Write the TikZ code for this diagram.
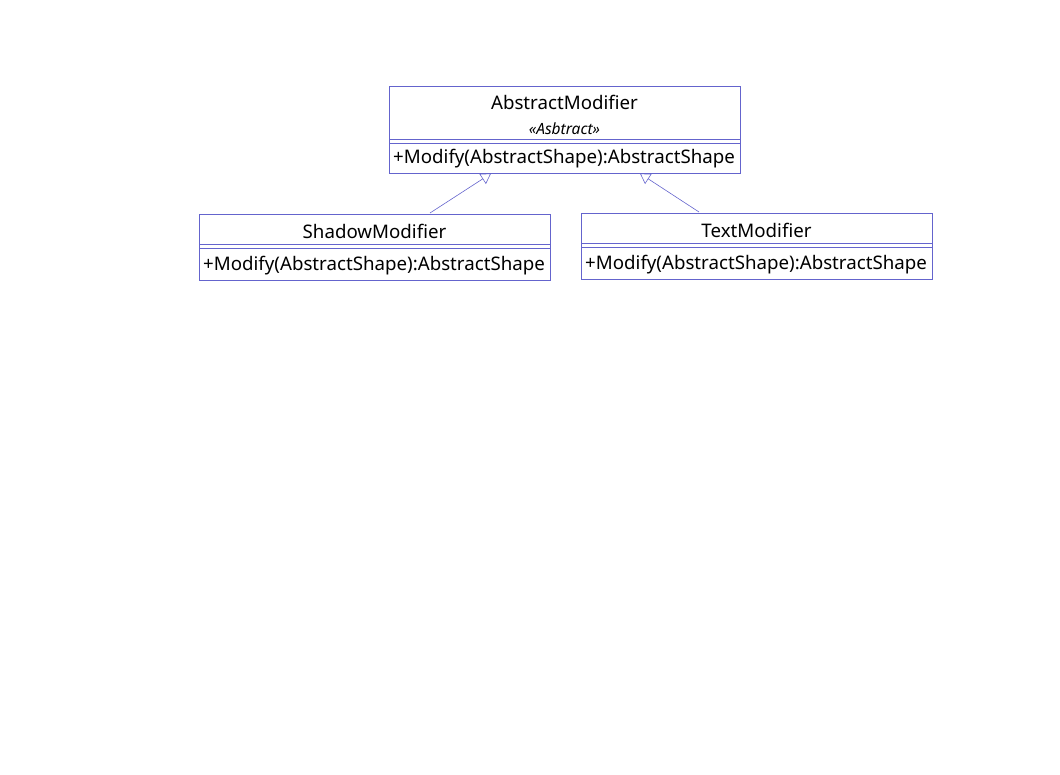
\documentclass[tikz,border=0pt]{standalone}
\usepackage{fontspec}
\setmainfont{Noto Sans}
\usetikzlibrary{arrows.meta}
\definecolor{umlline}{RGB}{100,100,205}
\begin{document}
\begin{tikzpicture}[x=1pt,y=-1pt,
  classbox/.style={draw=umlline,line width=0.8pt,minimum width=351pt,inner sep=0pt,anchor=north west},
  sep/.style={draw=umlline,line width=0.9pt},
  cname/.style={font=\fontsize{18.7}{20}\selectfont,anchor=center,inner sep=0pt},
  stereo/.style={font=\fontsize{15.5}{17}\itshape\selectfont,anchor=center,inner sep=0pt},
  meth/.style={font=\fontsize{18.7}{20}\selectfont,anchor=west,inner sep=0pt},
  inherit/.style={draw=umlline,line width=0.6pt,-{Triangle[open,length=10pt,width=12pt]}}]
  \useasboundingbox (0,0) rectangle (1060,774);
  % base class
  \node[classbox,minimum height=87pt] (abs) at (389,86) {};
  \node[cname] (absname) at (564.5,102.5) {AbstractModifier};
  \node[stereo] (absst) at (564.5,128.5) {«Asbtract»};
  \draw[sep] (389,139) -- (740,139) (389,143) -- (740,143);
  \node[meth] (absm) at (393,159) {+Modify(AbstractShape):AbstractShape};
  % ShadowModifier
  \node[classbox,minimum height=66pt] (sh) at (199,214) {};
  \node[cname] (shname) at (374.5,231) {ShadowModifier};
  \draw[sep] (199,244) -- (550,244) (199,248) -- (550,248);
  \node[meth] (shm) at (203,266) {+Modify(AbstractShape):AbstractShape};
  % TextModifier
  \node[classbox,minimum height=66pt] (tx) at (581,213) {};
  \node[cname] (txname) at (756.5,230) {TextModifier};
  \draw[sep] (581,243) -- (932,243) (581,247) -- (932,247);
  \node[meth] (txm) at (585,265) {+Modify(AbstractShape):AbstractShape};
  % generalisation arrows
  \coordinate (shtop) at (430,213);
  \coordinate (abstarget1) at (491,173.5);
  \coordinate (txtop) at (699,212);
  \coordinate (abstarget2) at (640,173.5);
  \draw[inherit] (shtop) -- (abstarget1);
  \draw[inherit] (txtop) -- (abstarget2);
\end{tikzpicture}
\end{document}
